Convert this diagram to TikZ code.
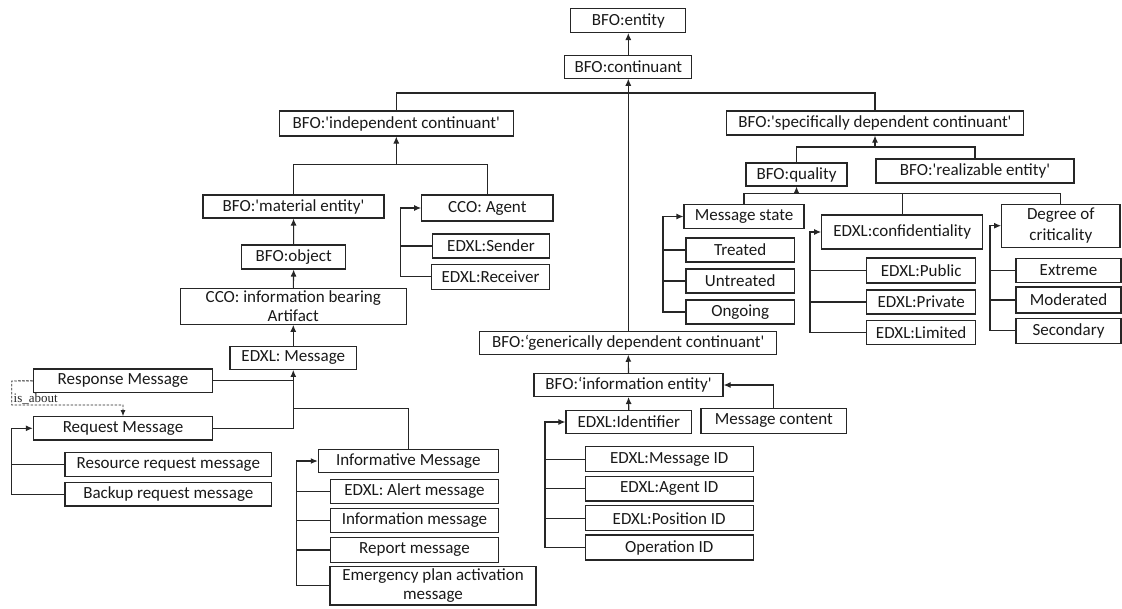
\documentclass[tikz,border=0pt]{standalone}
\usepackage{fontspec}
\setmainfont{Carlito}
\newfontfamily\isafont{Liberation Serif}
\usetikzlibrary{arrows.meta}
\newcommand{\sqt}{\textquotesingle}
\begin{document}
\begin{tikzpicture}[x=1pt,y=-1pt,
  box/.style={draw=black!85, line width=1.1pt, inner sep=0pt, align=center, text=black!90, font=\fontsize{17}{19}\selectfont},
  con/.style={draw=black!85, line width=1.1pt},
  arr/.style={con, -{Latex[length=7pt,width=6pt]}},
  dsh/.style={draw=black!85, line width=0.9pt, dash pattern=on 2.5pt off 1.5pt, -{Latex[length=6pt,width=5pt]}},
]
\useasboundingbox (0,0) rectangle (1122,608);
% top
\node[box, minimum width=115pt, minimum height=24pt] (entity) at (628.3,20.5) {BFO:entity};
\node[box, minimum width=127pt, minimum height=23pt] (continuant) at (628.3,66.7) {BFO:continuant};
\node[box, minimum width=234pt, minimum height=25pt] (indep) at (396.3,123.5) {BFO:\sqt independent continuant\sqt};
\node[box, minimum width=297pt, minimum height=24pt] (specdep) at (875,123) {BFO:\sqt specifically dependent continuant\sqt};
\node[box, minimum width=297pt, minimum height=23pt] (gendep) at (628.3,342.7) {BFO:‘generically dependent continuant\sqt};
% right branch
\node[box, minimum width=101pt, minimum height=23pt] (quality) at (796.5,174.5) {BFO:quality};
\node[box, minimum width=198pt, minimum height=24pt] (realizable) at (975,171) {BFO:\sqt realizable entity\sqt};
\node[box, minimum width=120pt, minimum height=24pt] (msgstate) at (744,216.5) {Message state};
\node[box, minimum width=108.5pt, minimum height=24pt] (treated) at (740.2,250) {Treated};
\node[box, minimum width=108.5pt, minimum height=24pt] (untreated) at (740.2,281) {Untreated};
\node[box, minimum width=108.5pt, minimum height=24pt] (ongoing) at (740.2,312) {Ongoing};
\node[box, minimum width=161pt, minimum height=34pt] (conf) at (902.2,232) {EDXL:confidentiality};
\node[box, minimum width=109pt, minimum height=25pt] (public) at (921.2,270.5) {EDXL:Public};
\node[box, minimum width=109pt, minimum height=24pt] (private) at (921.2,302) {EDXL:Private};
\node[box, minimum width=109pt, minimum height=24pt] (limited) at (921.2,332.3) {EDXL:Limited};
\node[box, minimum width=118.3pt, minimum height=43.3pt, font=\fontsize{17}{21}\selectfont] (degree) at (1060.8,225.7) {Degree of\\criticality};
\node[box, minimum width=105pt, minimum height=24.4pt] (extreme) at (1068.5,270.5) {Extreme};
\node[box, minimum width=105pt, minimum height=26pt] (moderated) at (1068.5,300) {Moderated};
\node[box, minimum width=105pt, minimum height=25pt] (secondary) at (1068.5,330.8) {Secondary};
% left branch
\node[box, minimum width=181pt, minimum height=23pt] (material) at (293.5,206.5) {BFO:\sqt material entity\sqt};
\node[box, minimum width=131.3pt, minimum height=26pt] (agent) at (487.3,208) {CCO: Agent};
\node[box, minimum width=116.6pt, minimum height=24pt] (sender) at (491,246) {EDXL:Sender};
\node[box, minimum width=117.6pt, minimum height=24.7pt] (receiver) at (490.5,276.7) {EDXL:Receiver};
\node[box, minimum width=104pt, minimum height=24pt] (object) at (293.7,257) {BFO:object};
\node[box, minimum width=226pt, minimum height=36pt] (artifact) at (293.3,306.3) {CCO: information bearing\\Artifact};
\node[box, minimum width=126.7pt, minimum height=23.3pt] (edxlmsg) at (293.3,357.7) {EDXL: Message};
\node[box, minimum width=179.4pt, minimum height=23.7pt] (response) at (123,380.8) {Response Message};
\node[box, minimum width=179.4pt, minimum height=23.3pt] (request) at (123,428.3) {Request Message};
\node[box, minimum width=206.7pt, minimum height=24pt] (resource) at (168.3,464.7) {Resource request message};
\node[box, minimum width=206.7pt, minimum height=23.3pt] (backup) at (168.3,494.3) {Backup request message};
\node[box, minimum width=180pt, minimum height=23.4pt] (informative) at (408.3,461) {Informative Message};
\node[box, minimum width=167.6pt, minimum height=24pt] (alert) at (414.5,491.3) {EDXL: Alert message};
\node[box, minimum width=167.6pt, minimum height=24pt] (infomsg) at (414.5,520.3) {Information message};
\node[box, minimum width=167.6pt, minimum height=24.6pt] (report) at (414.5,550) {Report message};
\node[box, minimum width=206pt, minimum height=38.3pt] (emergency) at (433,585.8) {Emergency plan activation\\message};
% middle branch
\node[box, minimum width=189pt, minimum height=23pt] (infoentity) at (628.5,385) {BFO:‘information entity\sqt};
\node[box, minimum width=125.7pt, minimum height=22.6pt] (identifier) at (628.8,422) {EDXL:Identifier};
\node[box, minimum width=145.7pt, minimum height=25pt] (msgcontent) at (773.8,420.8) {Message content};
\node[box, minimum width=168.3pt, minimum height=25pt] (msgid) at (669.2,459.2) {EDXL:Message ID};
\node[box, minimum width=168.3pt, minimum height=24.3pt] (agentid) at (669.2,488.8) {EDXL:Agent ID};
\node[box, minimum width=168.3pt, minimum height=25pt] (positionid) at (669.2,518.2) {EDXL:Position ID};
\node[box, minimum width=168.3pt, minimum height=25pt] (operationid) at (669.2,547.5) {Operation ID};

% hub coordinates
\coordinate (chub) at (628.3,93);
\coordinate (sdhub) at (875,147);
\coordinate (qhub) at (796.5,193.3);
\coordinate (ihub) at (396.3,164.3);
\coordinate (inhub) at (293.3,408.3);
\coordinate (msB) at (663,0);
\coordinate (cfB) at (810,0);
\coordinate (dgB) at (990,0);
\coordinate (agB) at (400.7,0);
\coordinate (rqB) at (11.7,0);
\coordinate (ifB) at (296.7,0);
\coordinate (idB) at (545,0);

% connectors top
\draw[arr] (continuant) -- (entity);
\draw[con] (indep.north) |- (chub) -| (specdep.north);
\draw[arr] (gendep.north) -- (continuant.south);
\draw[con] (quality.north) |- (sdhub) -| (realizable.north);
\draw[arr] (sdhub) -- (specdep.south);
\draw[con] (msgstate.north) |- (qhub) -| (degree.north);
\draw[con] (conf.north) -- (conf.north |- qhub);
\draw[arr] (qhub) -- (quality.south);
% brackets right
\draw[arr] (ongoing.west) -- (ongoing.west -| msB) |- (msgstate.west);
\draw[con] (treated.west) -- (treated.west -| msB);
\draw[con] (untreated.west) -- (untreated.west -| msB);
\draw[arr] (limited.west) -- (limited.west -| cfB) |- (conf.west);
\draw[con] (public.west) -- (public.west -| cfB);
\draw[con] (private.west) -- (private.west -| cfB);
\draw[arr] (secondary.west) -- (secondary.west -| dgB) |- (degree.west);
\draw[con] (extreme.west) -- (extreme.west -| dgB);
\draw[con] (moderated.west) -- (moderated.west -| dgB);
% left
\draw[con] (material.north) |- (ihub) -| (agent.north);
\draw[arr] (ihub) -- (indep.south);
\draw[arr] (receiver.west) -- (receiver.west -| agB) |- (agent.west);
\draw[con] (sender.west) -- (sender.west -| agB);
\draw[arr] (object.north) -- (material.south);
\draw[arr] (artifact.north) -- (object.south);
\draw[arr] (edxlmsg.north) -- (artifact.south);
\draw[arr] (request.east) -| (edxlmsg.south);
\draw[con] (response.east) -- (response.east -| edxlmsg.south);
\draw[con] (inhub) -| (informative.north);
\draw[arr] (backup.west) -- (backup.west -| rqB) |- (request.west);
\draw[con] (resource.west) -- (resource.west -| rqB);
\draw[arr] (emergency.west) -- (emergency.west -| ifB) |- (informative.west);
\draw[con] (alert.west) -- (alert.west -| ifB);
\draw[con] (infomsg.west) -- (infomsg.west -| ifB);
\draw[con] (report.west) -- (report.west -| ifB);
% is_about
\coordinate (isa1) at (11.7,381);
\coordinate (isa2) at (11.7,405);
\draw[dsh] (response.west) -- (isa1) -- (isa2) -| (request.north);
\node[font=\isafont\fontsize{13}{14}\selectfont, text=black!85, inner sep=0pt, anchor=base west] (isalabel) at (13.5,402.5) {is\_about};
% middle
\draw[arr] (infoentity.north) -- (gendep.south);
\draw[arr] (identifier.north) -- (infoentity.south);
\draw[arr] (msgcontent.north) |- (infoentity.east);
\draw[arr] (operationid.west) -- (operationid.west -| idB) |- (identifier.west);
\draw[con] (msgid.west) -- (msgid.west -| idB);
\draw[con] (agentid.west) -- (agentid.west -| idB);
\draw[con] (positionid.west) -- (positionid.west -| idB);
\end{tikzpicture}
\end{document}
